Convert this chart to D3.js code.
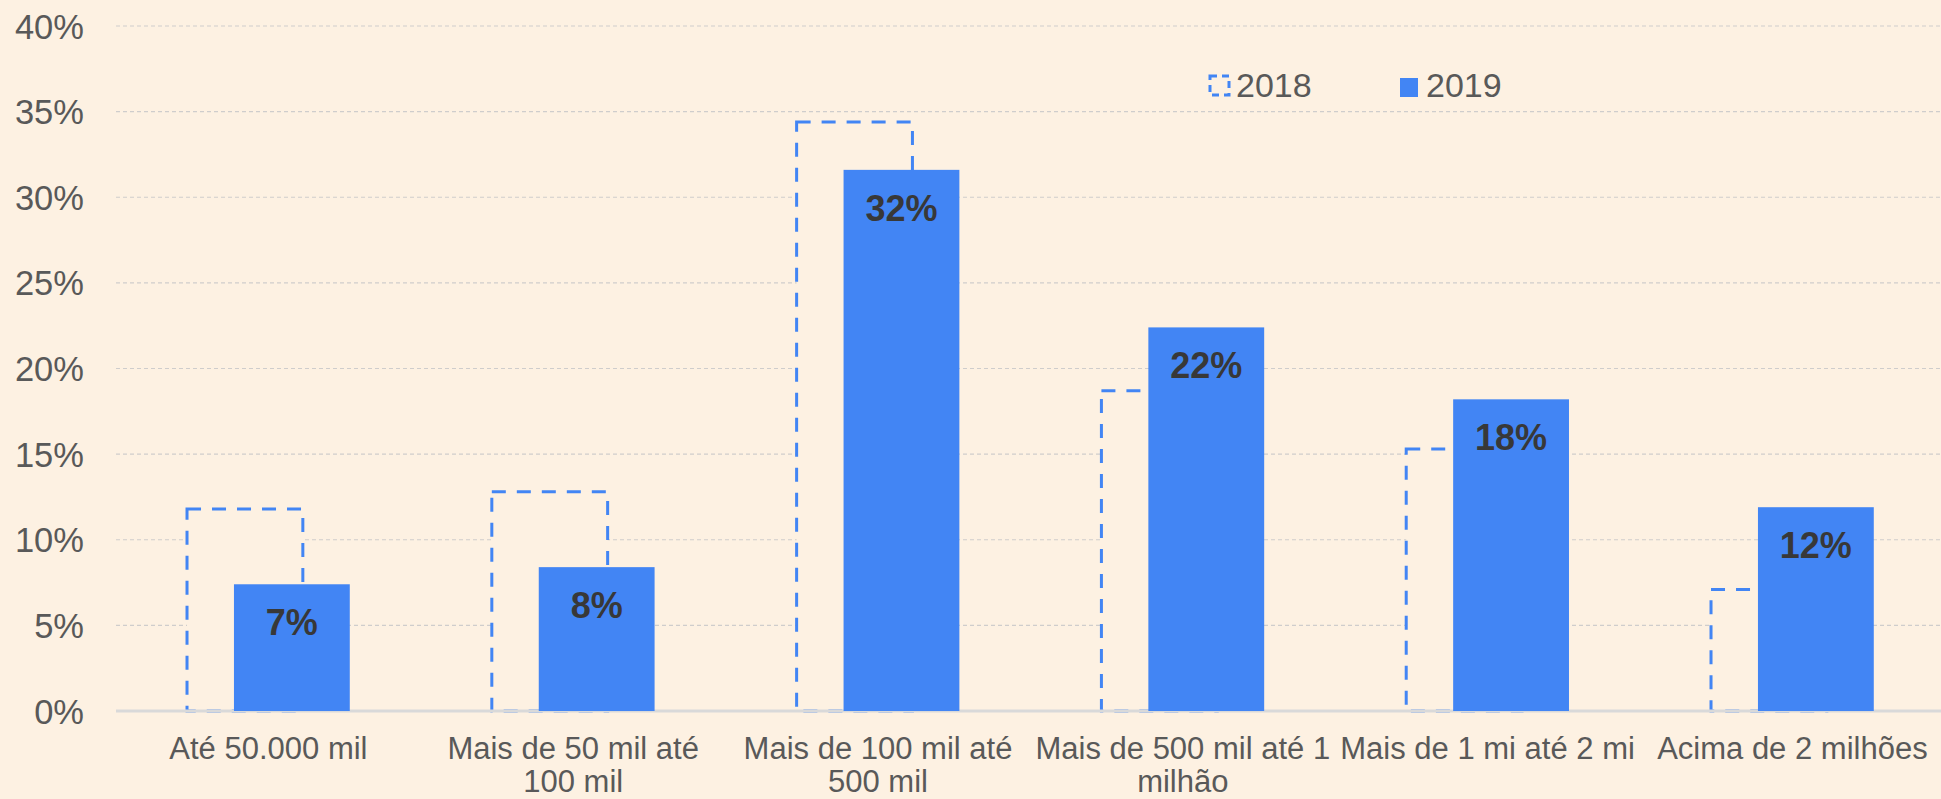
<!DOCTYPE html>
<html>
<head>
<meta charset="utf-8">
<script src="https://cdn.jsdelivr.net/npm/d3@7"></script>
<style>
  html, body { margin: 0; padding: 0; background: #fdf1e2; }
  svg { display: block; }
</style>
</head>
<body>
<svg id="chart" width="1941" height="799"></svg>
<script>
// ---- data ----
const categories = [
  "Até 50.000 mil",
  "Mais de 50 mil até 100 mil",
  "Mais de 100 mil até 500 mil",
  "Mais de 500 mil até 1 milhão",
  "Mais de 1 mi até 2 mi",
  "Acima de 2 milhões"
];
const categoryLines = [
  ["Até 50.000 mil"],
  ["Mais de 50 mil até", "100 mil"],
  ["Mais de 100 mil até", "500 mil"],
  ["Mais de 500 mil até 1", "milhão"],
  ["Mais de 1 mi até 2 mi"],
  ["Acima de 2 milhões"]
];
const values2018 = [11.8, 12.8, 34.4, 18.7, 15.3, 7.1];
const values2019 = [7.4, 8.4, 31.6, 22.4, 18.2, 11.9];
const seriesNames = ["2018", "2019"];
const yTicks = [0, 5, 10, 15, 20, 25, 30, 35, 40];

// ---- setup ----
const W = 1941, H = 799;
const bg = "#fdf1e2";
const blue = "#4285f4";
const textGray = "#595959";
const font = "'Liberation Sans', Arial, sans-serif";

const svg = d3.select("#chart");
svg.append("rect").attr("width", W).attr("height", H).attr("fill", bg);

const x = d3.scaleBand().domain(categories).range([116, 116 + 6 * 304.8]).padding(0);
const y = d3.scaleLinear().domain([0, 40]).range([711, 26]);

const bw = x.bandwidth();
const barW = bw * 0.38;
const off = bw * 0.077;
const cx = c => x(c) + bw / 2;

// gridlines
svg.append("g").selectAll("line")
  .data(yTicks.filter(t => t > 0))
  .join("line")
  .attr("x1", 116).attr("x2", W)
  .attr("y1", d => y(d)).attr("y2", d => y(d))
  .attr("stroke", "#cfcdcc").attr("stroke-width", 1.2)
  .attr("stroke-dasharray", "4,3");

// y axis labels
const yAxis = d3.axisLeft(y).tickValues(yTicks).tickFormat(d => d + "%").tickSize(0).tickPadding(0);
const yg = svg.append("g").attr("transform", "translate(84,0)").call(yAxis);
yg.select(".domain").remove();
yg.selectAll("text")
  .attr("font-family", font).attr("font-size", 34.5).attr("fill", textGray)
  .attr("dy", "0.35em");

// 2018 dashed bars
svg.append("g").selectAll("rect")
  .data(categories)
  .join("rect")
  .attr("x", (c) => cx(c) - off - barW / 2)
  .attr("y", (c, i) => y(values2018[i]))
  .attr("width", barW)
  .attr("height", (c, i) => y(0) - y(values2018[i]))
  .attr("fill", bg)
  .attr("stroke", blue).attr("stroke-width", 3)
  .attr("stroke-dasharray", "14,11");

// baseline
svg.append("line")
  .attr("x1", 116).attr("x2", W)
  .attr("y1", y(0)).attr("y2", y(0))
  .attr("stroke", "#d9d9d9").attr("stroke-width", 3);

// 2019 solid bars
svg.append("g").selectAll("rect")
  .data(categories)
  .join("rect")
  .attr("x", (c) => cx(c) + off - barW / 2)
  .attr("y", (c, i) => y(values2019[i]))
  .attr("width", barW)
  .attr("height", (c, i) => y(0) - y(values2019[i]))
  .attr("fill", blue);

// data labels
svg.append("g").selectAll("text")
  .data(categories)
  .join("text")
  .attr("x", (c) => cx(c) + off)
  .attr("y", (c, i) => y(values2019[i]) + 51)
  .attr("text-anchor", "middle")
  .attr("font-family", font).attr("font-size", 36).attr("font-weight", "bold")
  .attr("fill", "#383838")
  .text((c, i) => Math.round(values2019[i]) + "%");

// x axis labels
const xl = svg.append("g").selectAll("text")
  .data(categories)
  .join("text")
  .attr("text-anchor", "middle")
  .attr("font-family", font).attr("font-size", 31).attr("fill", textGray);
xl.each(function(c, i) {
  const t = d3.select(this);
  categoryLines[i].forEach((line, j) => {
    t.append("tspan").attr("x", cx(c)).attr("y", 759 + j * 33).text(line);
  });
});

// legend
const lg = svg.append("g");
lg.append("rect").attr("x", 1210).attr("y", 76).attr("width", 19).attr("height", 19)
  .attr("fill", "none").attr("stroke", blue).attr("stroke-width", 3).attr("stroke-dasharray", "7,5");
lg.append("text").attr("x", 1236).attr("y", 97)
  .attr("font-family", font).attr("font-size", 34).attr("fill", textGray).text(seriesNames[0]);
lg.append("rect").attr("x", 1400).attr("y", 78).attr("width", 18).attr("height", 19).attr("fill", blue);
lg.append("text").attr("x", 1426).attr("y", 97)
  .attr("font-family", font).attr("font-size", 34).attr("fill", textGray).text(seriesNames[1]);
</script>
</body>
</html>
